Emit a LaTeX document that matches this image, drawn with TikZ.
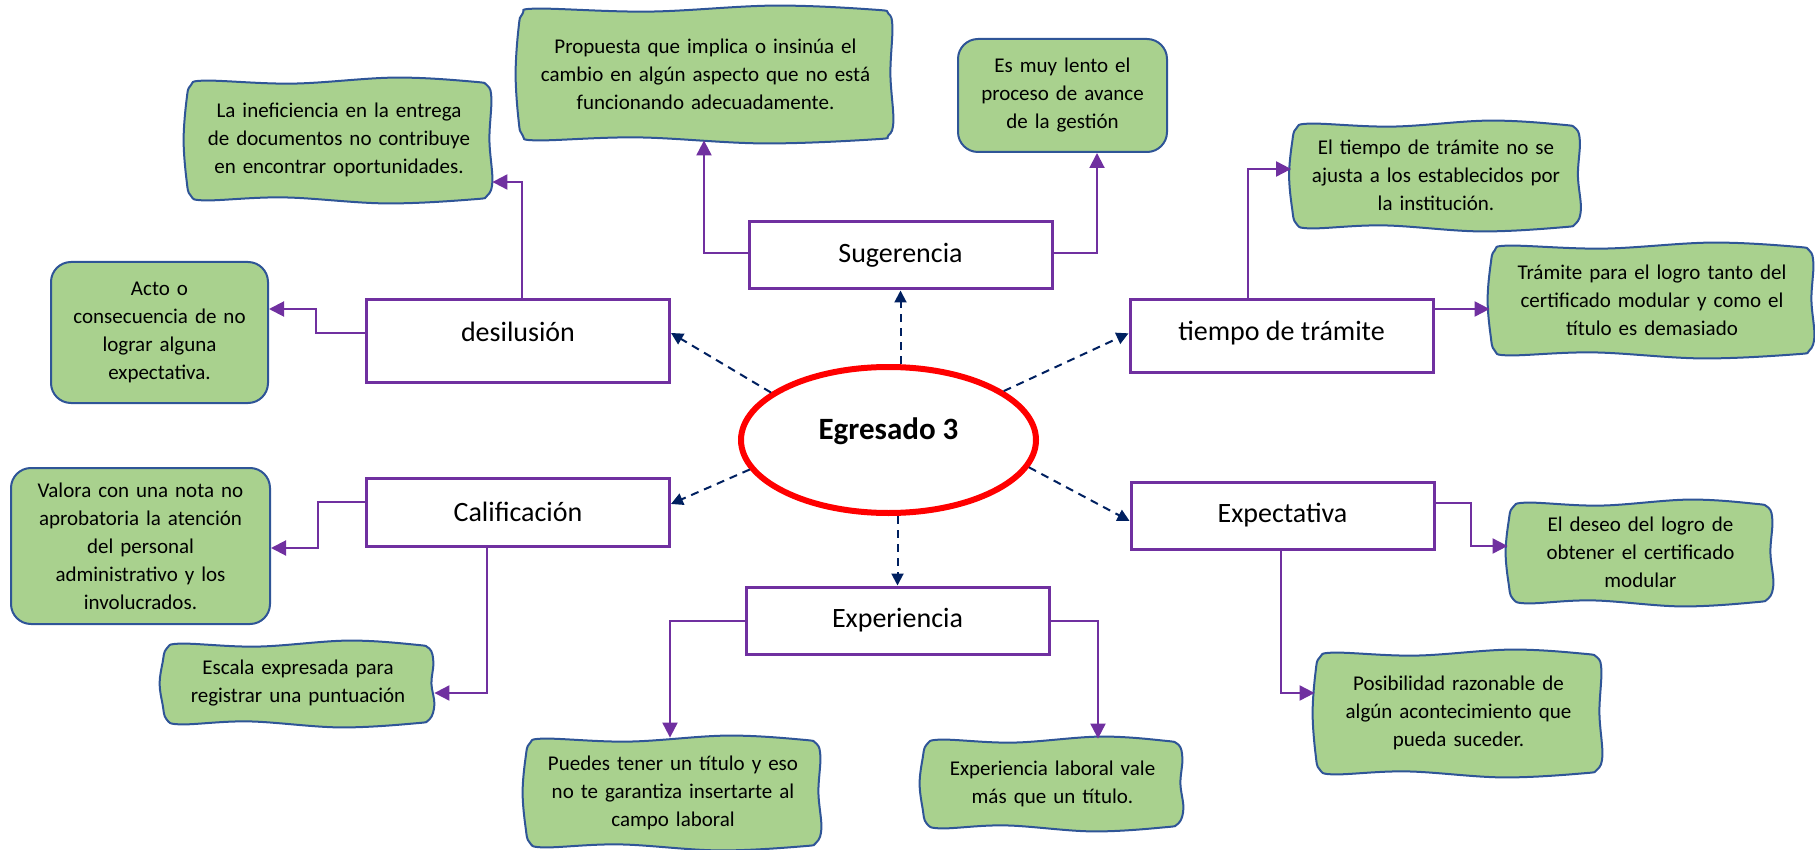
\documentclass[tikz,border=0pt]{standalone}
\usepackage{fontspec}
\setmainfont{Carlito}
\usetikzlibrary{arrows.meta,shapes.geometric,calc,backgrounds}
\definecolor{mapgreen}{HTML}{A9D18E}
\definecolor{mapblue}{HTML}{2F5597}
\definecolor{mapviolet}{HTML}{7030A0}
\definecolor{mapnavy}{HTML}{002060}
\newcommand\wobbly[1]{%
  \begin{pgfonlayer}{background}
  \draw[mapblue,line width=1pt,fill=mapgreen] plot[smooth cycle,tension=0.6] coordinates {
    ($(#1.north west)+(20,1)$) ($(#1.north west)!0.35!(#1.north east)+(0,4)$)
    ($(#1.north west)!0.68!(#1.north east)+(0,-2)$) ($(#1.north east)+(-20,2)$)
    ($(#1.north east)+(-5,6)$)
    ($(#1.north east)+(-1,20)$) ($(#1.north east)!0.5!(#1.south east)+(-3,0)$)
    ($(#1.south east)+(0,-20)$) ($(#1.south east)+(-5,-5)$) ($(#1.south east)+(-20,-1)$)
    ($(#1.south east)!0.35!(#1.south west)+(0,3)$) ($(#1.south east)!0.68!(#1.south west)+(0,-3)$)
    ($(#1.south west)+(20,0)$) ($(#1.south west)+(5,-5)$) ($(#1.south west)+(1,-20)$)
    ($(#1.south west)!0.5!(#1.north west)+(-2,0)$) ($(#1.north west)+(1,20)$)
    ($(#1.north west)+(5,6)$)};
  \end{pgfonlayer}}

\begin{document}
\begin{tikzpicture}[x=0.5pt,y=-0.5pt,
    topic/.style={draw=mapviolet,line width=1.5pt,fill=white,minimum width=151.5pt,font=\fontsize{14}{17}\selectfont},
    note/.style={align=center,inner sep=4pt,font=\fontsize{10.5}{14}\selectfont},
    plainnote/.style={note,fill=mapgreen,draw=mapblue,line width=1pt,rounded corners=10pt},
    wavynote/.style={note},
    link/.style={draw=mapviolet,line width=1pt,-{Triangle[length=7.5pt,width=7.5pt]}},
    spoke/.style={draw=mapnavy,line width=1pt,dash pattern=on 4pt off 3pt,-{Triangle[length=6pt,width=6pt]}}]
    \useasboundingbox (0,0) rectangle (1815,850);

    \node[ellipse,draw=red,line width=3pt,minimum width=147.5pt,minimum height=73pt,inner sep=0pt,text height=11pt,text depth=12pt,font=\fontsize{15.5}{18}\selectfont\bfseries] (ego) at (888.5,440) {Egresado 3};

    \node[topic,minimum height=41pt,text height=10pt,text depth=9pt] (desil) at (518,341) {desilusión};
    \node[topic,minimum height=33.5pt] (sug) at (900.5,255.5) {Sugerencia};
    \node[topic,minimum height=36pt,text height=10pt,text depth=6pt] (tiempo) at (1281.5,336) {tiempo de trámite};
    \node[topic,minimum height=34pt] (calif) at (518,512) {Calificación};
    \node[topic,minimum height=33.5pt] (expect) at (1282.5,515.5) {Expectativa};
    \node[topic,minimum height=33.5pt] (exper) at (897.5,620.5) {Experiencia};

    \node[wavynote,text width=145pt,minimum height=60pt] (inef) at (339,140) {La ineficiencia en la entrega\\de documentos no contribuye\\en encontrar oportunidades.};
    \node[wavynote,text width=179.5pt,minimum height=66pt] (prop) at (705.5,74) {Propuesta que implica o insinúa el\\cambio en algún aspecto que no está\\funcionando adecuadamente.};
    \node[plainnote,text width=96.5pt,minimum height=56.5pt] (lento) at (1062.5,95.5) {Es muy lento el\\proceso de avance\\de la gestión};
    \node[plainnote,text width=100.5pt,minimum height=70.5pt] (acto) at (159.5,332.5) {Acto o\\consecuencia de no\\lograr alguna\\expectativa.};
    \node[wavynote,text width=136.5pt,minimum height=52.5pt] (tdesc) at (1436,175.5) {El tiempo de trámite no se\\ajusta a los establecidos por\\la institución.};
    \node[wavynote,text width=154pt,minimum height=55pt] (tram) at (1652,300) {Trámite para el logro tanto del\\certificado modular y como el\\título es demasiado};
    \node[plainnote,text width=121.5pt,minimum height=78pt] (valora) at (140.5,546) {Valora con una nota no\\aprobatoria la atención\\del personal\\administrativo y los\\involucrados.};
    \node[wavynote,text width=128pt,minimum height=40.5pt] (escala) at (298,683.5) {Escala expresada para\\registrar una puntuación};
    \node[wavynote,text width=140pt,minimum height=54.5pt] (puedes) at (673,792.5) {Puedes tener un título y eso\\no te garantiza insertarte al\\campo laboral};
    \node[wavynote,text width=122.5pt,minimum height=44.5pt] (laboral) at (1052.5,783.5) {Experiencia laboral vale\\más que un título.};
    \node[wavynote,text width=124.5pt,minimum height=50.5pt] (deseo) at (1640.5,552.5) {El deseo del logro de\\obtener el certificado\\modular};
    \node[wavynote,text width=135.5pt,minimum height=61pt] (posib) at (1458.5,713) {Posibilidad razonable de\\algún acontecimiento que\\pueda suceder.};

    \wobbly{inef}
    \wobbly{prop}
    \wobbly{tdesc}
    \wobbly{tram}
    \wobbly{escala}
    \wobbly{puedes}
    \wobbly{laboral}
    \wobbly{deseo}
    \wobbly{posib}

    \draw[spoke] (ego.158) -- (desil.3);
    \draw[spoke] (ego.north -| sug.south) -- (sug.south);
    \draw[spoke] (ego.23) -- (tiempo.179);
    \draw[spoke] (ego.192) -- (calif.3);
    \draw[spoke] (ego.349) -- (expect.182);
    \draw[spoke] (ego.south -| exper.north) -- (exper.north);

    \coordinate (ka) at (522,182);
    \coordinate (kb) at (316,333);
    \coordinate (kb2) at (316,309);
    \coordinate (kc) at (704,253);
    \coordinate (kd) at (1097,253);
    \coordinate (ke) at (1248,169);
    \coordinate (kf) at (1433,309);
    \coordinate (kg) at (318,502);
    \coordinate (kg2) at (318,548);
    \coordinate (kh) at (487,693);
    \coordinate (ki) at (670,621);
    \coordinate (kj) at (1098,621);
    \coordinate (kk) at (1471,503);
    \coordinate (kk2) at (1471,546);
    \coordinate (kl) at (1281,693);

    \draw[link] (desil.north -| ka) |- (inef.east |- ka);
    \draw[link] (desil.west |- kb) -- (kb) |- (acto.east |- kb2);
    \draw[link] (sug.west |- kc) -| (prop.south -| kc);
    \draw[link] (sug.east |- kd) -| (lento.south -| kd);
    \draw[link] (tiempo.north -| ke) |- (tdesc.west |- ke);
    \draw[link] (tiempo.east |- kf) -- (tram.west |- kf);
    \draw[link] (calif.west |- kg) -- (kg) |- (valora.east |- kg2);
    \draw[link] (calif.south -| kh) |- (escala.east |- kh);
    \draw[link] (exper.west |- ki) -| (puedes.north -| ki);
    \draw[link] (exper.east |- kj) -| (laboral.north -| kj);
    \draw[link] (expect.east |- kk) -- (kk) |- (deseo.west |- kk2);
    \draw[link] (expect.south -| kl) |- (posib.west |- kl);
\end{tikzpicture}
\end{document}
